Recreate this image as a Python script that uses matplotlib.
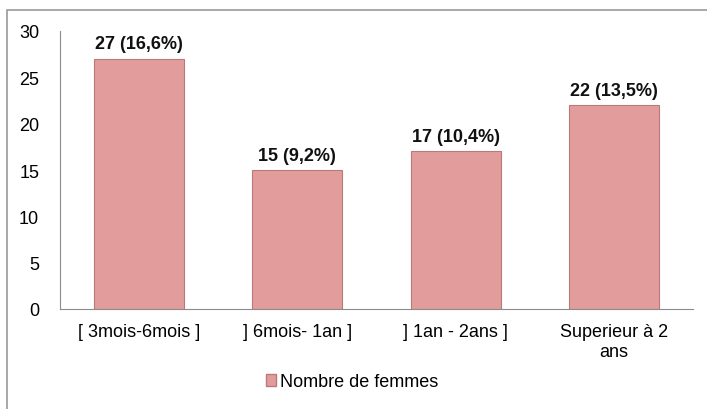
import matplotlib
matplotlib.use("Agg")
import matplotlib.pyplot as plt
from matplotlib.patches import Rectangle, Patch

categories = ["[ 3mois-6mois ]", "] 6mois- 1an ]", "] 1an - 2ans ]", "Superieur à 2\nans"]
values = [27, 15, 17, 22]
labels = ["27 (16,6%)", "15 (9,2%)", "17 (10,4%)", "22 (13,5%)"]
series_name = "Nombre de femmes"

plt.rcParams['font.family'] = ['Liberation Sans', 'DejaVu Sans']

W, H = 707, 410
fig = plt.figure(figsize=(W / 100, H / 100), dpi=100)
fig.patches.append(Rectangle((7 / W, -0.1), 1.2, (H - 11) / H + 0.1, transform=fig.transFigure,
                             fill=False, edgecolor="#9a9a9a", linewidth=1.2))

ax = fig.add_axes([60 / W, 1 - 310 / H, (693 - 60) / W, (310 - 32) / H])
x = range(len(categories))
bars = ax.bar(x, values, width=0.57, color="#E39C9C", edgecolor="#B87A7A", linewidth=0.8)
for xi, v, lab in zip(x, values, labels):
    ax.text(xi, v + 0.7, lab, ha="center", va="bottom", fontsize=13, fontweight="bold", color="#111111")

ax.set_xlim(-0.5, len(categories) - 0.5)
ax.set_ylim(0, 30)
ax.set_yticks(range(0, 31, 5))
ax.set_xticks(list(x))
ax.set_xticklabels(categories, fontsize=13, linespacing=1.25)
ax.tick_params(axis="y", labelsize=13, length=0, pad=15)
ax.tick_params(axis="x", length=0, pad=10)
for s in ["top", "right"]:
    ax.spines[s].set_visible(False)
ax.spines["left"].set_color("#8c8c8c")
ax.spines["bottom"].set_color("#8c8c8c")

fig.legend(handles=[Patch(facecolor="#E39C9C", edgecolor="#B87A7A", label=series_name)],
           loc="center", bbox_to_anchor=(352 / W, 1 - 383 / H), frameon=False,
           fontsize=13, handlelength=0.6, handleheight=0.6, handletextpad=0.2)

fig.savefig("out.png", dpi=100)
